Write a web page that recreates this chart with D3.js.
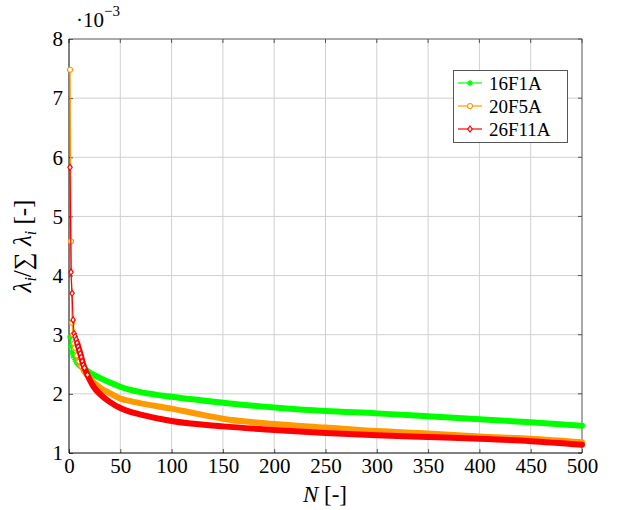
<!DOCTYPE html>
<meta charset='utf-8'>
<style>
  body { margin:0; background:#fff; }
  text { font-family:'Liberation Serif','DejaVu Serif',serif; fill:#000; }
  .grid line { stroke:#d0d0d0; stroke-width:1px; }
</style>
<body>
<script src='https://cdnjs.cloudflare.com/ajax/libs/d3/7.8.5/d3.min.js'></script>
<script>
  // eigenvalue share per mode, in units of 1e-3
  var N16 = [1,2,3,4,6,8,10,15,20,30,40,50,59,70,100,150,200,250,300,350,400,450,500];
  var v16 = [2.96,2.80,2.70,2.64,2.58,2.53,2.49,2.42,2.36,2.27,2.19,2.12,2.07,2.03,1.95,1.85,1.77,1.71,1.67,1.62,1.57,1.52,1.46];

  var N20 = [1,2,3,4,5,6,8,10,12,15,20,25,30,40,50,59,70,100,120,150,200,250,300,350,400,450,500];
  var v20 = [7.48,4.58,3.20,3.00,2.85,2.78,2.65,2.55,2.47,2.38,2.27,2.18,2.11,2.01,1.92,1.88,1.84,1.75,1.68,1.58,1.49,1.43,1.37,1.33,1.28,1.24,1.18];

  var N26 = [1,2,3,4,5,6,7,8,9,10,11,12,13,14,15,18,21,24,30,40,50,59,70,100,150,200,250,300,350,400,450,500];
  var v26 = [5.83,4.06,3.70,3.25,3.02,2.97,2.92,2.86,2.80,2.74,2.68,2.62,2.55,2.49,2.44,2.32,2.21,2.12,2.00,1.86,1.76,1.70,1.65,1.54,1.45,1.39,1.34,1.30,1.27,1.24,1.20,1.14];

  var xTicks = [0,50,100,150,200,250,300,350,400,450,500];
  var yTicks = [1,2,3,4,5,6,7,8];

  var series = [
    {name:'16F1A', N:N16, v:v16, color:'#00ff00', marker:'star'},
    {name:'20F5A', N:N20, v:v20, color:'#ff9900', marker:'circle'},
    {name:'26F11A', N:N26, v:v26, color:'#ff0000', marker:'diamond'}
  ];

  var width = 619, height = 510;
  var pL = 69, pR = 582, pT = 39, pB = 453;

  var svg = d3.select('body').append('svg')
    .attr('width', width)
    .attr('height', height);

  var x = d3.scaleLinear().domain([0,500]).range([pL,pR]);
  var y = d3.scaleLinear().domain([1,8]).range([pB,pT]);

  // grid
  var grid = svg.append('g').attr('class','grid');
  grid.selectAll('.gx').data(xTicks.slice(1,-1)).enter().append('line')
    .attr('x1', d => x(d)).attr('x2', d => x(d))
    .attr('y1', pT).attr('y2', pB);
  grid.selectAll('.gy').data(yTicks.slice(1,-1)).enter().append('line')
    .attr('x1', pL).attr('x2', pR)
    .attr('y1', d => y(d)).attr('y2', d => y(d));

  // axes with inward ticks
  var xAxis = d3.axisBottom(x).tickValues(xTicks).tickFormat(d3.format('d')).tickSize(-4);
  var yAxis = d3.axisLeft(y).tickValues(yTicks).tickFormat(d3.format('d')).tickSize(-4).tickPadding(6);
  var gx = svg.append('g').attr('transform','translate(0,' + pB + ')').call(xAxis);
  var gy = svg.append('g').attr('transform','translate(' + pL + ',0)').call(yAxis);
  [gx, gy].forEach(g => {
    g.attr('font-family', null);
    g.select('.domain').remove();
    g.selectAll('.tick line').attr('stroke','#555');
    g.selectAll('text').style('font-family',"'Liberation Serif',serif").style('font-size','21px').attr('fill','#000');
  });
  gx.selectAll('.tick text').attr('y', 5).attr('dy','0.71em');
  // top and right ticks
  svg.append('g').selectAll('line').data(xTicks).enter().append('line')
    .attr('x1', d => x(d)).attr('x2', d => x(d))
    .attr('y1', pT).attr('y2', pT + 4).attr('stroke','#555');
  svg.append('g').selectAll('line').data(yTicks).enter().append('line')
    .attr('x1', pR).attr('x2', pR - 4)
    .attr('y1', d => y(d)).attr('y2', d => y(d)).attr('stroke','#555');

  // frame
  svg.append('line').attr('x1',pL).attr('x2',pR).attr('y1',pT).attr('y2',pT).attr('stroke','#555');
  svg.append('line').attr('x1',pR).attr('x2',pR).attr('y1',pT).attr('y2',pB).attr('stroke','#555');
  svg.append('line').attr('x1',pL).attr('x2',pR).attr('y1',pB).attr('y2',pB).attr('stroke','#000');
  svg.append('line').attr('x1',pL).attr('x2',pL).attr('y1',pT).attr('y2',pB).attr('stroke','#000');

  function markerPath(kind) {
    if (kind == 'circle') return d3.symbol().type(d3.symbolCircle).size(20)();
    if (kind == 'diamond') return 'M0,-3L2.2,0L0,3L-2.2,0Z';
    return 'M-3,0L3,0M0,-3L0,3M-2.2,-2.2L2.2,2.2M-2.2,2.2L2.2,-2.2';
  }

  var line = d3.line().x(d => x(d[0])).y(d => y(d[1])).curve(d3.curveMonotoneX);

  var plot = svg.append('g');
  series.forEach(s => {
    var pts = s.N.map((n,i) => [n, s.v[i]]);
    var dense = pts.filter(p => p[0] >= 8);
    plot.append('path').datum(pts).attr('d', line)
      .attr('fill','none').attr('stroke', s.color).attr('stroke-width', 1.2);
    plot.append('path').datum(dense).attr('d', line)
      .attr('fill','none').attr('stroke', s.color).attr('stroke-width', 6)
      .attr('stroke-linecap','round');
    plot.selectAll(null).data(pts.filter(p => p[0] < 20)).enter().append('path')
      .attr('transform', p => 'translate(' + x(p[0]) + ',' + y(p[1]) + ')')
      .attr('d', markerPath(s.marker))
      .attr('fill', s.marker == 'star' ? 'none' : '#fff')
      .attr('stroke', s.color).attr('stroke-width', 1.2);
  });

  // exponent
  var ex = svg.append('text').attr('x', 76).attr('y', 27).style('font-size','21px');
  ex.append('tspan').text('·10');
  ex.append('tspan').attr('dy', -11).style('font-size','15px').text('−3');

  // axis titles
  svg.append('text').attr('x', 325).attr('y', 502).attr('text-anchor','middle')
    .style('font-size','23px')
    .html("<tspan font-style='italic'>N</tspan> [-]");

  var yl = svg.append('text')
    .attr('transform','translate(31,246) rotate(-90)')
    .attr('text-anchor','middle').style('font-size','25px');
  yl.append('tspan').attr('font-style','italic').text('λ');
  yl.append('tspan').attr('font-style','italic').attr('dy', 5).style('font-size','16px').text('i');
  yl.append('tspan').attr('dy', -5).text('/∑ ');
  yl.append('tspan').attr('font-style','italic').text('λ');
  yl.append('tspan').attr('font-style','italic').attr('dy', 5).style('font-size','16px').text('i');
  yl.append('tspan').attr('dy', -5).text(' [-]');

  // legend
  var lg = svg.append('g');
  lg.append('rect').attr('x', 453.5).attr('y', 70.5).attr('width', 114).attr('height', 72)
    .attr('fill','#fff').attr('stroke','#555');
  series.forEach((s,i) => {
    var ly = 83 + i * 23;
    lg.append('line').attr('x1', 458).attr('x2', 482).attr('y1', ly).attr('y2', ly)
      .attr('stroke', s.color).attr('stroke-width', 1.2);
    lg.append('path').attr('transform','translate(470,' + ly + ')')
      .attr('d', markerPath(s.marker))
      .attr('fill', s.marker == 'star' ? 'none' : '#fff')
      .attr('stroke', s.color).attr('stroke-width', 1.2);
    lg.append('text').attr('x', 489).attr('y', ly + 6.5).style('font-size','19px').text(s.name);
  });
</script>
</body>
